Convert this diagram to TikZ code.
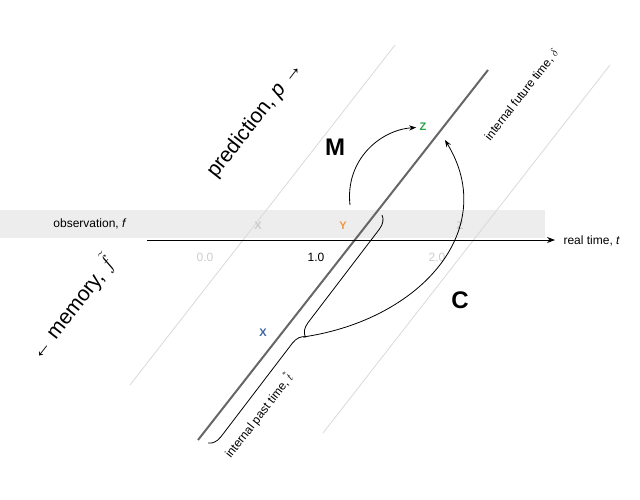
\documentclass[tikz,border=0pt]{standalone}
\usepackage{fontspec}
\setmainfont{Liberation Sans}
\usetikzlibrary{arrows.meta,decorations.pathreplacing}
\definecolor{lgray}{gray}{0.85}
\definecolor{band}{gray}{0.93}
\definecolor{ylw}{RGB}{240,150,60}
\definecolor{grn}{RGB}{40,160,70}
\definecolor{blu}{RGB}{60,100,160}
\definecolor{tgray}{gray}{0.8}
\tikzset{lbl/.style={font=\fontsize{12}{14}\selectfont},
 big/.style={font=\fontsize{21}{24}\selectfont, rotate=52},
 letter/.style={font=\fontsize{11}{13}\selectfont\bfseries},
 curve/.style={thick,-{Stealth[length=7pt]}},
 serifbig/.style={font=\fontsize{24}{26}\selectfont\bfseries\rmfamily}}
\begin{document}
\begin{tikzpicture}[x=1pt,y=-1pt]
\useasboundingbox (0,0) rectangle (640,499);
\fill[band] (0,210) rectangle (545,238);
\draw[lgray,thick] (130,385) -- (395,45);
\draw[lgray,thick] (323,433) -- (610,65);
\coordinate (ls) at (198,440); \coordinate (le) at (488,70);
\draw[black!60,line width=2pt] (ls) -- (le);
\coordinate (as) at (147,240); \coordinate (ae) at (555,240);
\draw[thick,-{Stealth[length=8pt]}] (as) -- (ae);
\node[lbl,anchor=west] (rt) at (560,241) {real time, \textit{t}};
\node[lbl] (obs) at (90,224) {observation, \textit{f}};
\node[letter,text=tgray] (X1) at (258,226) {X};
\node[letter,text=ylw] (Y) at (343,226) {Y};
\node[letter,text=tgray] (Z1) at (460,226) {Z};
\node[lbl,text=tgray] (t0) at (205,257) {0.0};
\node[lbl] (t1) at (316,257) {1.0};
\node[lbl,text=tgray] (t2) at (437,257) {2.0};
\node[letter,text=grn] (Z) at (423,127) {Z};
\node[letter,text=blu] (X) at (263,333) {X};
\node[serifbig] (M) at (335,147) {M};
\node[serifbig] (C) at (460,300) {C};
\node[big] (pred) at (255,120) {prediction, \textit{p} →};
\node[big] (mem) at (72,308) {← memory, $\tilde{f}$};
\node[lbl,rotate=52] (fut) at (522,95) {internal future time, $\delta$};
\node[lbl,rotate=52] (past) at (258,415) {internal past time, $\stackrel{*}{t}$};
\coordinate (bs) at (382,215); \coordinate (be) at (208,443);
\draw[thick,decorate,decoration={brace,amplitude=13pt}] (bs) -- (be);
\coordinate (tip) at (303,337);
\coordinate (ms) at (350,205);
\draw[curve] (ms) .. controls (345,160) and (380,130) .. (Z);
\draw[curve] (tip) .. controls (420,320) and (500,230) .. (445,140);
\end{tikzpicture}
\end{document}
